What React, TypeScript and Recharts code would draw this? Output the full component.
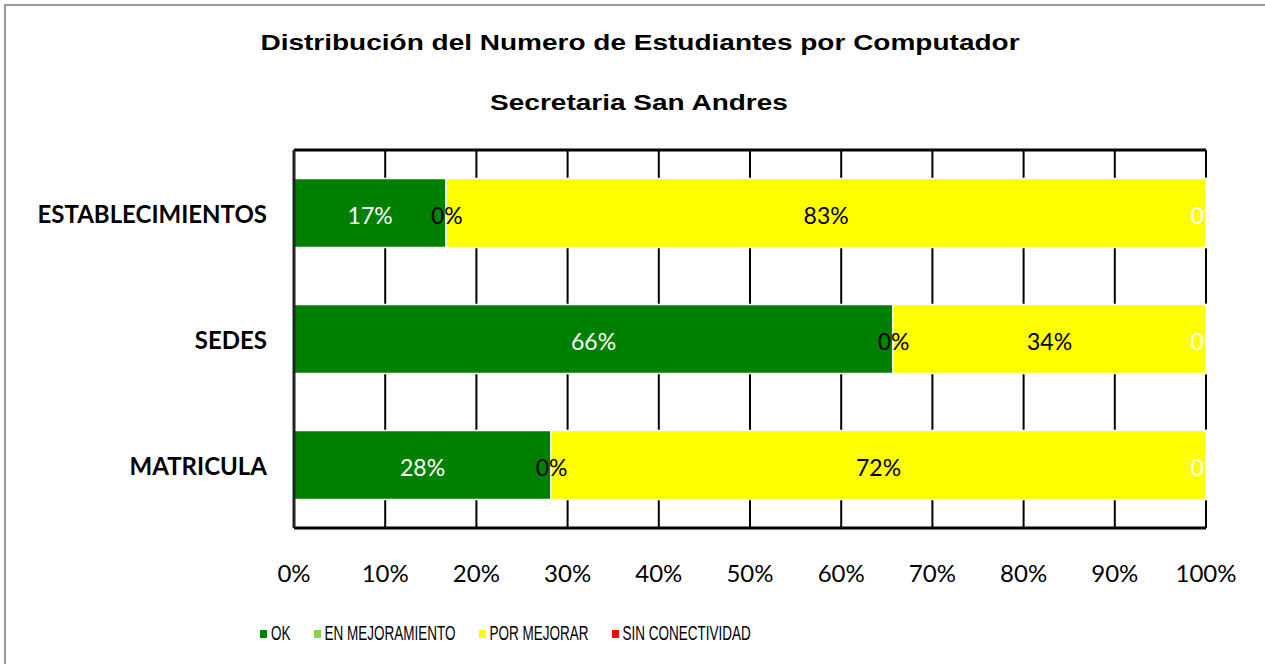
import React from "react"
import { Bar, BarChart, CartesianGrid, LabelList, Legend, XAxis, YAxis } from "recharts"

// categorias (de arriba hacia abajo) y porcentajes
const categorias = ["ESTABLECIMIENTOS", "SEDES", "MATRICULA"]
const ok = [16.7, 65.7, 28.2]
const enMejoramiento = [0, 0, 0]
const porMejorar = [83.3, 34.3, 71.8]
const sinConectividad = [0, 0, 0]
const ticksX = [0, 10, 20, 30, 40, 50, 60, 70, 80, 90, 100]

const series = [
  { key: "ok", name: "OK", color: "#008000", labelColor: "#ffffff" },
  { key: "enMejoramiento", name: "EN MEJORAMIENTO", color: "#92D050", labelColor: "#000000" },
  { key: "porMejorar", name: "POR MEJORAR", color: "#FFFF00", labelColor: "#000000" },
  { key: "sinConectividad", name: "SIN CONECTIVIDAD", color: "#FF0000", labelColor: "#ffffff" },
]
const ordenSeries = series.map((s) => s.name)

const datos = categorias.map((name, i) => ({
  name,
  ok: ok[i],
  enMejoramiento: enMejoramiento[i],
  porMejorar: porMejorar[i],
  sinConectividad: sinConectividad[i],
}))

const CategoryTick = ({ x, y, payload }: any) => (
  <text
    x={x - 27}
    y={y}
    textAnchor="end"
    dominantBaseline="central"
    fontFamily="Lato, sans-serif"
    fontWeight={700}
    fontSize={24}
    fill="#000"
  >
    {payload.value}
  </text>
)

const PercentTick = ({ x, y, payload }: any) => (
  <text x={x} y={y + 44} textAnchor="middle" dominantBaseline="central" fontFamily="Lato, sans-serif" fontSize={24} fill="#000">
    {`${payload.value}%`}
  </text>
)

const makeLabel = (color: string) => (props: any) => {
  const { x, y, width, height, value } = props
  return (
    <text
      x={x + width / 2}
      y={y + height / 2 + 2}
      textAnchor="middle"
      dominantBaseline="central"
      fontFamily="Lato, sans-serif"
      fontSize={23}
      fill={color}
    >
      {`${Math.round(value)}%`}
    </text>
  )
}

const LeyendaCustom = ({ payload }: any) => {
  const items = [...(payload || [])].sort((a: any, b: any) => ordenSeries.indexOf(a.value) - ordenSeries.indexOf(b.value))
  return (
    <div style={{ display: "flex", alignItems: "center", gap: 23, fontFamily: "'Liberation Sans', Arial, sans-serif" }}>
      {items.map((item: any) => (
        <div key={item.value} style={{ display: "flex", alignItems: "center" }}>
          <span style={{ display: "inline-block", width: 7, height: 8, background: item.color, marginRight: 4 }} />
          <span style={{ display: "inline-block", fontSize: 13.5, transform: "scaleY(1.55)", color: "#000", whiteSpace: "nowrap" }}>
            {item.value}
          </span>
        </div>
      ))}
    </div>
  )
}

const tituloStyle: React.CSSProperties = {
  position: "absolute",
  left: 0,
  width: 1280,
  textAlign: "center",
  fontFamily: "'Liberation Sans', Arial, sans-serif",
  fontWeight: 700,
  fontSize: 28,
  transform: "scaleY(0.8)",
  whiteSpace: "pre",
}

export default function App() {
  return (
    <div style={{ position: "absolute", left: 0, top: 0, width: 1265, height: 664, overflow: "hidden", background: "#fff" }}>
      <div
        style={{
          position: "absolute",
          left: 4,
          top: 4,
          width: 1320,
          height: 720,
          border: "2px solid #9a9a9a",
        }}
      />
      <div style={{ ...tituloStyle, top: 27 }}>Distribución del Numero de Estudiantes por Computador</div>
      <div style={{ ...tituloStyle, top: 87, width: 1278 }}>Secretaria San Andres</div>
      <BarChart
        width={1265}
        height={664}
        data={datos}
        layout="vertical"
        margin={{ top: 148, right: 59, left: 14, bottom: 76 }}
        barCategoryGap="22.6%"
      >
        <CartesianGrid vertical={true} horizontal={false} stroke="#000" strokeWidth={2} />
        <XAxis
          type="number"
          domain={[0, 100]}
          ticks={ticksX}
          tick={<PercentTick />}
          tickLine={false}
          tickSize={0}
          tickMargin={0}
          height={60}
          axisLine={{ stroke: "#000", strokeWidth: 3 }}
        />
        <XAxis
          xAxisId="top"
          orientation="top"
          type="number"
          domain={[0, 100]}
          ticks={ticksX}
          tick={false}
          tickLine={false}
          tickSize={0}
          height={2}
          axisLine={{ stroke: "#000", strokeWidth: 3 }}
        />
        <YAxis
          type="category"
          dataKey="name"
          width={280}
          tick={<CategoryTick />}
          tickLine={false}
          tickSize={0}
          tickMargin={0}
          axisLine={{ stroke: "#222", strokeWidth: 3 }}
        />
        <YAxis
          yAxisId="right"
          orientation="right"
          type="category"
          dataKey="name"
          width={0}
          tick={false}
          tickLine={false}
          axisLine={{ stroke: "#000", strokeWidth: 3 }}
        />
        <Legend
          layout="horizontal"
          verticalAlign="middle"
          align="center"
          content={<LeyendaCustom />}
          wrapperStyle={{ top: 626, left: 260, width: "auto", height: "auto" }}
        />
        {series.map((s) => (
          <Bar
            key={s.key}
            dataKey={s.key}
            name={s.name}
            stackId="a"
            fill={s.color}
            stroke="#fff"
            strokeWidth={1.5}
            minPointSize={1}
            isAnimationActive={false}
          >
            <LabelList dataKey={s.key} content={makeLabel(s.labelColor)} />
          </Bar>
        ))}
      </BarChart>
    </div>
  )
}
